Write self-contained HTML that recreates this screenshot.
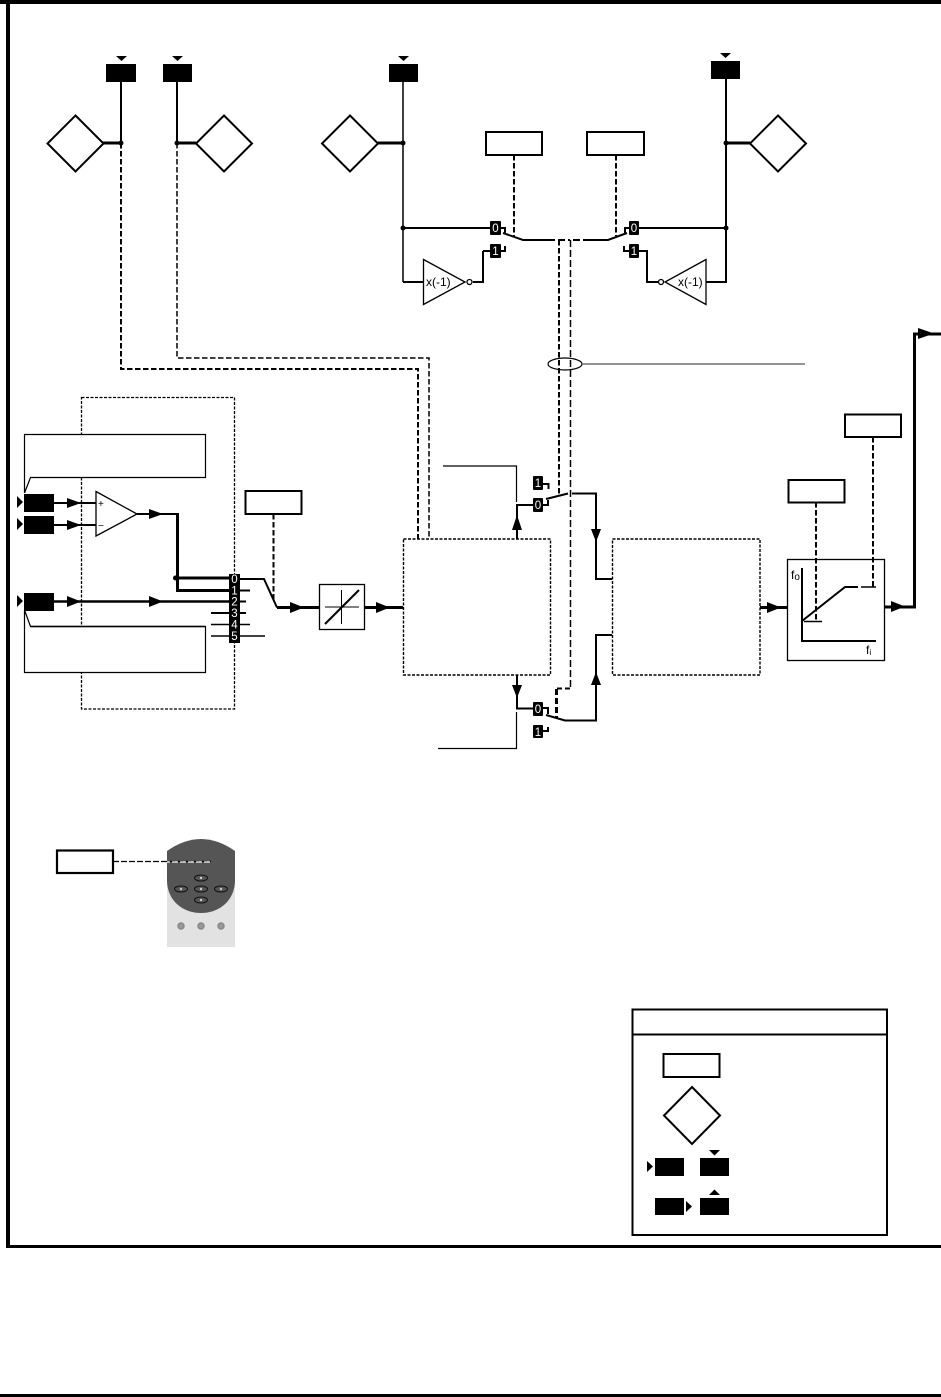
<!DOCTYPE html>
<html><head><meta charset="utf-8"><style>
html,body{margin:0;padding:0;background:#fff}
svg{display:block}
text{font-family:"Liberation Sans",sans-serif}
.w{fill:#fff;font-size:11.500px;text-anchor:middle}
</style></head><body>
<svg width="941" height="1397" viewBox="0 0 941 1397" xmlns="http://www.w3.org/2000/svg">
<g fill="none" stroke="#000" stroke-width="2">
<!-- frame -->
<path d="M0 2H941" stroke-width="4"/>
<path d="M8 0V1248" stroke-width="4"/>
<path d="M6 1246.500H941" stroke-width="3"/>
<path d="M0 1395.500H941" stroke-width="3"/>
<!-- diamonds -->
<path d="M75.500 115.500L103.500 143.500L75.500 171.500L47.500 143.500Z"/>
<path d="M224 115.500L252 143.500L224 171.500L196 143.500Z"/>
<path d="M350 115.500L378 143.500L350 171.500L322 143.500Z"/>
<path d="M778 115.500L806 143.500L778 171.500L750 143.500Z"/>
<path d="M692 1087L720 1115.500L692 1144L664 1115.500Z"/>
<!-- top wires -->
<path d="M121 82V143M177 82V143"/>
<path d="M103 143H121M177 143H196M378 143H403M726 143H750" stroke-width="3"/>
<path d="M403 82V282" stroke-width="1.500"/>
<path d="M403 282H423M403 228H490M639 228H726"/>
<path d="M726 79V282H706"/>
<!-- dashed -->
<path d="M121 143V369H418V539" stroke-dasharray="5.500 2.500"/>
<path d="M177 143V358H429V539" stroke-width="1.500" stroke-dasharray="5.500 2.500"/>
<path d="M514 155V236M616 155V236" stroke-dasharray="5.500 2.500"/>
<path d="M559 240V494" stroke-dasharray="5.500 2.500"/>
<path d="M570.500 240V688" stroke-width="1.500" stroke-dasharray="7 3"/>
<path d="M570 688.500H557" stroke-width="2" stroke-dasharray="5 3"/>
<path d="M556.500 689V718" stroke-width="3" stroke-dasharray="6 3"/>
<path d="M548 240H570" stroke-dasharray="7 3"/>
<path d="M590 240H571" stroke-dasharray="7 3"/>
<!-- switches top -->
<path d="M501 228H505V233M503 233L523 240H548M483 251H490M501 251H505V246M473 282H483V251"/>
<path d="M629 228H625V233M627 233L608 240H590M639 251H647V282H664M629 251H624V246"/>
<!-- inverters -->
<path d="M423.500 259.500L465 282L423.500 304.500Z" stroke-width="1.300"/>
<path d="M706 259.500L665 282L706 304.500Z" stroke-width="1.300"/>
<circle cx="469.500" cy="282" r="2.500" fill="#fff" stroke-width="1.300"/>
<circle cx="661" cy="282" r="2.500" fill="#fff" stroke-width="1.300"/>
<!-- ellipse + leader -->
<ellipse cx="565" cy="364" rx="17" ry="6" stroke-width="1.200"/>
<path d="M582 364H805" stroke="#555" stroke-width="1.200"/>
<!-- rect param boxes -->
<rect x="486" y="132" width="56" height="23"/>
<rect x="587" y="132" width="57" height="23"/>
<rect x="845" y="414.500" width="56" height="22.500"/>
<rect x="788.500" y="480" width="56" height="22.500"/>
<rect x="245.500" y="491" width="56" height="23"/>
<rect x="57" y="850.500" width="56" height="22.500" stroke-width="2.200"/>
<rect x="663.500" y="1054" width="56" height="23"/>
<!-- left dotted module -->
<rect x="81.500" y="397.500" width="153" height="311.500" stroke-width="1.300" stroke-dasharray="3 1.500"/>
<!-- callouts -->
<path d="M24.500 493V434.500H205.500V477.500H30.500L24.500 493" fill="#fff" stroke-width="1.200"/>
<path d="M24.500 610V672.500H205.500V626.500H30.500L24.500 610" fill="#fff" stroke-width="1.200"/>
<path d="M30.500 626.500H205" stroke-width="1.600"/>
<!-- inputs -->
<path d="M54 503H96M54 525H96" />
<path d="M96 491.500L137 514L96 536Z" fill="#fff" stroke-width="1.300"/>
<path d="M137 514H177"/>
<path d="M177.500 513V590.500H229M175 578H229" stroke-width="3"/>
<path d="M54 601.500H229" stroke-width="2.500"/>
<path d="M240 579H264L277 607.500" stroke-width="2"/>
<path d="M277 607.500H319" stroke-width="3"/>
<path d="M240 590.500H250M240 601.500H246M211 613H246" stroke-width="2"/>
<path d="M211 624.500H250M211 636H265" stroke-width="1.500"/>
<path d="M273.500 514V600" stroke-dasharray="5.500 2.500"/>
<!-- limiter box -->
<rect x="319.500" y="584.500" width="45" height="45" stroke-width="1.300"/>
<path d="M341.500 590V624M325 607H359" stroke-width="1"/>
<path d="M325 624L359 590" stroke-width="2"/>
<path d="M364 607.500H403" stroke-width="3"/>
<!-- central dotted boxes -->
<rect x="403.500" y="539" width="147" height="136" stroke-width="1.400" stroke-dasharray="3 1.500"/>
<rect x="612.500" y="539" width="147.500" height="136" stroke-width="1.400" stroke-dasharray="3 1.500"/>
<!-- ramp switches -->
<path d="M517 539V505H533M517 675V708.500H533"/>
<path d="M516.500 502V466H443M516.500 712V748.500H438" stroke-width="1.200"/>
<path d="M543 484H548.500V489M543 505H548V500M546 499L568 493.500M572 493.500H596V579H612"/>
<path d="M543 708H548V714M546 715L565 720.500H596V635H612M543 731H548V727"/>
<!-- output -->
<path d="M760 607.500H787" stroke-width="3"/>
<path d="M884 607H914.500V334H941" stroke-width="3"/>
<!-- ramp block -->
<rect x="787.500" y="559.500" width="97" height="101" stroke-width="1.300"/>
<path d="M802 568V641H876"/>
<path d="M802 621L845 587H858" stroke-width="2"/>
<path d="M861 587H876M804 621.500H822" stroke-width="1.500"/>
<path d="M816 502V621M873 437V587" stroke-dasharray="5.500 2.500"/>
<!-- legend -->
<rect x="632.500" y="1009.500" width="254.500" height="225.500"/>
<path d="M632 1034.500H887" stroke-width="2"/>
</g>
<!-- dots -->
<g fill="#000">
<circle cx="121" cy="143" r="2.500"/><circle cx="177" cy="143" r="2.500"/><circle cx="403" cy="143" r="2.500"/><circle cx="403" cy="228" r="2.500"/><circle cx="726" cy="143" r="2.500"/><circle cx="726" cy="228" r="2.500"/><circle cx="175.500" cy="578" r="2.500"/>
<!-- black terminals -->
<rect x="106" y="64" width="30" height="18"/><rect x="163" y="64" width="29" height="18"/><rect x="389" y="64" width="29" height="18"/><rect x="711" y="61" width="29" height="18"/>
<rect x="24" y="494" width="30" height="18"/><rect x="24" y="516" width="30" height="18"/><rect x="24" y="593" width="30" height="18"/>
<rect x="655" y="1158" width="29" height="18"/><rect x="700" y="1158" width="29" height="18"/><rect x="655" y="1198" width="29" height="17"/><rect x="700" y="1198" width="29" height="17"/>
<!-- small triangles -->
<path d="M116 56H127L121.500 61Z"/><path d="M172 56H183L177.500 61Z"/><path d="M398 56H409L403.500 61Z"/><path d="M720 53H731L725.500 58Z"/>
<path d="M17 496V508L23 502Z"/><path d="M17 518V530L23 524Z"/><path d="M17 595V607L23 601Z"/>
<path d="M647 1161V1172L653 1166.500Z"/><path d="M709 1150H720L714.500 1155.500Z"/><path d="M686 1201V1212L692 1206.500Z"/><path d="M709 1195H720L714.500 1189.500Z"/>
<!-- flow arrowheads -->
<path d="M67 498L81 503L67 508Z"/><path d="M67 520L81 525L67 530Z"/><path d="M67 596L81 601.500L67 607Z"/>
<path d="M149 509L163 514L149 519Z"/><path d="M149 596L163 601.500L149 607Z"/>
<path d="M290 602L304 607.500L290 613Z"/><path d="M376 602L390 607.500L376 613Z"/>
<path d="M767 602L781 607.500L767 613Z"/><path d="M891 601L905 606.500L891 612Z"/>
<path d="M918 328L934 333.500L918 339Z"/>
<path d="M512 530L517 515L522 530Z"/><path d="M512 685L517 698L522 685Z"/>
<path d="M591 529L596 542L601 529Z"/><path d="M591 685L596 672L601 685Z"/>
<!-- 0/1 tags -->
<rect x="490" y="221" width="11" height="14" rx="1"/><rect x="490" y="244" width="11" height="14" rx="1"/>
<rect x="629" y="221" width="10" height="14" rx="1"/><rect x="629" y="244" width="10" height="14" rx="1"/>
<rect x="533" y="476" width="10" height="14" rx="1"/><rect x="533" y="498" width="10" height="14" rx="1"/>
<rect x="533" y="702" width="10" height="14" rx="1"/><rect x="533" y="725" width="10" height="13" rx="1"/>
<rect x="229" y="574" width="11" height="69"/>
</g>
<text class="w" x="495.500" y="232">0</text><text class="w" x="495.500" y="255">1</text>
<text class="w" x="634" y="232">0</text><text class="w" x="634" y="255">1</text>
<text class="w" x="538" y="487">1</text><text class="w" x="538" y="509">0</text>
<text class="w" x="538" y="713">0</text><text class="w" x="538" y="736">1</text>
<g>
<text class="w" x="234.500" y="583">0</text><text class="w" x="234.500" y="594.500">1</text><text class="w" x="234.500" y="605.500">2</text><text class="w" x="234.500" y="617">3</text><text class="w" x="234.500" y="628.500">4</text><text class="w" x="234.500" y="640">5</text>
</g>
<text x="426" y="286" font-size="12">x(-1)</text>
<text x="678" y="286" font-size="12">x(-1)</text>
<text x="98" y="507" font-size="10">+</text>
<text x="98" y="529" font-size="10">−</text>
<text x="791" y="579" font-size="12">f<tspan font-size="10" dy="1">o</tspan></text>
<text x="866" y="654" font-size="12">f<tspan font-size="8" dy="1">i</tspan></text>
<!-- keypad -->
<rect x="167" y="875" width="68" height="72" fill="#e2e2e2"/>
<path d="M167 851Q201 827 235 851V880C235 900 220 913 201 913C182 913 167 900 167 880Z" fill="#555"/>
<path d="M113 861.500H211" stroke="#000" stroke-width="1.200" stroke-dasharray="6 2"/>
<path d="M167 862H211" stroke="#fff" stroke-width="1.200" stroke-dasharray="6 2" stroke-dashoffset="3"/>
<g fill="#555" stroke="#111" stroke-width="1">
<ellipse cx="201" cy="878" rx="6.500" ry="3"/><ellipse cx="181" cy="889" rx="6.500" ry="3"/><ellipse cx="201" cy="889" rx="6.500" ry="3"/><ellipse cx="221" cy="889" rx="6.500" ry="3"/><ellipse cx="201" cy="900" rx="6.500" ry="3"/>
</g>
<g fill="#ccc">
<circle cx="201" cy="878" r="1.200"/><circle cx="181" cy="889" r="1.200"/><circle cx="201" cy="889" r="1.200"/><circle cx="221" cy="889" r="1.200"/><circle cx="201" cy="900" r="1.200"/>
</g>
<g fill="#999" stroke="#888" stroke-width="1.500">
<circle cx="181" cy="926" r="3"/><circle cx="201" cy="926" r="3"/><circle cx="221" cy="926" r="3"/>
</g>
</svg>
</body></html>
